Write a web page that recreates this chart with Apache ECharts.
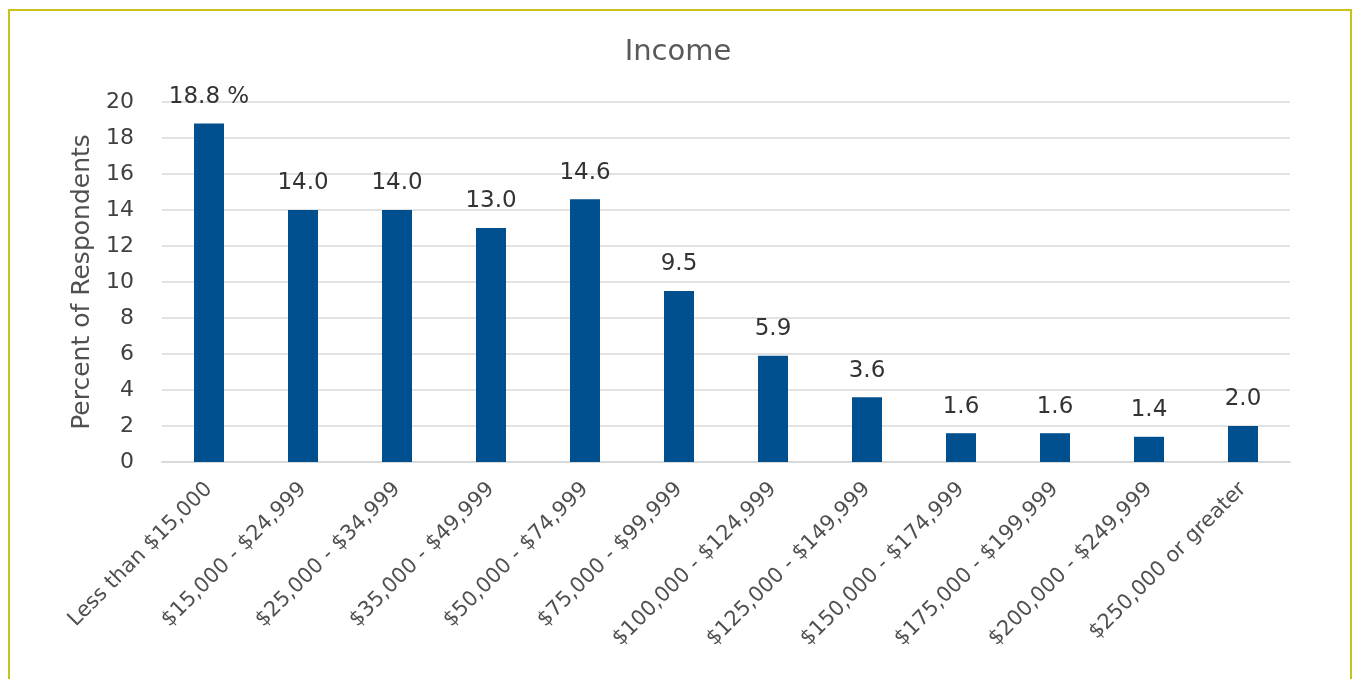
<!DOCTYPE html>
<html><head><meta charset="utf-8">
<script src="https://cdn.jsdelivr.net/npm/echarts@6/dist/echarts.min.js"></script>
<style>html,body{margin:0;padding:0;background:#fff}#c{width:1353px;height:679px}</style>
</head><body><div id="c"></div>
<script>
const categories = ["Less than $15,000","$15,000 - $24,999","$25,000 - $34,999","$35,000 - $49,999","$50,000 - $74,999","$75,000 - $99,999","$100,000 - $124,999","$125,000 - $149,999","$150,000 - $174,999","$175,000 - $199,999","$200,000 - $249,999","$250,000 or greater"];
const values = [18.8,14.0,14.0,13.0,14.6,9.5,5.9,3.6,1.6,1.6,1.4,2.0];
const yTicks = [0,2,4,6,8,10,12,14,16,18,20];

const chart = echarts.init(document.getElementById('c'));
const font = "'DejaVu Sans', sans-serif";
chart.setOption({
  animation:false,
  title:{text:'Income',left:673,top:33,textAlign:'center',textStyle:{fontFamily:font,fontSize:29,fontWeight:'normal',color:'#595959'}},
  graphic:[{type:'rect',shape:{x:9,y:10,width:1342,height:700},style:{fill:'none',stroke:'#c9c21a',lineWidth:2},silent:true}],
  grid:{left:162,right:63,top:102,bottom:217},
  xAxis:{type:'category',data:categories,
    axisLine:{lineStyle:{color:'#d9d9d9',width:2}},axisTick:{show:false},
    axisLabel:{rotate:45,interval:0,fontFamily:font,fontSize:21,color:'#505050',margin:24}},
  yAxis:{type:'value',min:yTicks[0],max:yTicks[yTicks.length-1],interval:2,
    name:'Percent of Respondents',nameLocation:'middle',nameGap:63,nameRotate:90,
    nameTextStyle:{fontFamily:font,fontSize:25,color:'#505050'},
    axisLine:{show:false},axisTick:{show:false},
    axisLabel:{fontFamily:font,fontSize:22,color:'#404040',margin:28},
    splitLine:{lineStyle:{color:'#d9d9d9',width:1.5}}},
  series:[{type:'bar',data:values,barWidth:30,itemStyle:{color:'#00508f'},
    label:{show:true,position:'top',distance:15,fontFamily:font,fontSize:23,color:'#333333',
      formatter:p=>p.dataIndex===0?p.value.toFixed(1)+' %':p.value.toFixed(1)}}]
});
</script></body></html>
